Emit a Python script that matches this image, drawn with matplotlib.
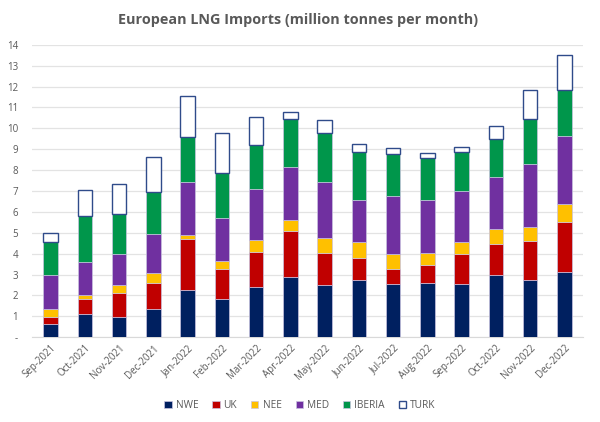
import matplotlib
matplotlib.use("Agg")
import matplotlib.pyplot as plt
import numpy as np

plt.rcParams["font.family"] = ["Open Sans", "DejaVu Sans"]

months = ["Sep-2021", "Oct-2021", "Nov-2021", "Dec-2021", "Jan-2022", "Feb-2022",
          "Mar-2022", "Apr-2022", "May-2022", "Jun-2022", "Jul-2022", "Aug-2022",
          "Sep-2022", "Oct-2022", "Nov-2022", "Dec-2022"]

# monthly volumes per region (million tonnes)
nwe = [0.64, 1.12, 0.96, 1.37, 2.28, 1.81, 2.40, 2.86, 2.51, 2.72, 2.56, 2.61, 2.54, 2.99, 2.75, 3.10]
uk = [0.32, 0.70, 1.15, 1.22, 2.40, 1.44, 1.68, 2.20, 1.51, 1.06, 0.69, 0.85, 1.44, 1.49, 1.86, 2.39]
nee = [0.37, 0.22, 0.41, 0.49, 0.22, 0.40, 0.56, 0.56, 0.72, 0.78, 0.72, 0.56, 0.58, 0.70, 0.65, 0.89]
med = [1.67, 1.55, 1.47, 1.84, 2.51, 2.06, 2.43, 2.51, 2.67, 2.00, 2.77, 2.56, 2.45, 2.47, 3.01, 3.27]
iberia = [1.54, 2.21, 1.92, 2.04, 2.17, 2.15, 2.15, 2.33, 2.38, 2.30, 2.03, 2.00, 1.85, 1.85, 2.16, 2.19]
turk = [0.46, 1.24, 1.42, 1.68, 1.97, 1.92, 1.32, 0.31, 0.61, 0.37, 0.30, 0.22, 0.23, 0.61, 1.39, 1.66]

series = [("NWE", nwe, "#002060"), ("UK", uk, "#C00000"), ("NEE", nee, "#FFC000"),
          ("MED", med, "#7030A0"), ("IBERIA", iberia, "#00964B")]

fig = plt.figure(figsize=(6, 4.22), dpi=100)
ax = fig.add_axes([0.053, 0.201, 0.919, 0.693])

x = np.arange(len(months))
w = 0.43
bottom = np.zeros(len(months))
for name, vals, col in series:
    ax.bar(x, vals, w, bottom=bottom, color=col, edgecolor="#C9C3E0", linewidth=0.5,
           label=name, zorder=3)
    bottom += np.array(vals)
ax.bar(x, turk, w, bottom=bottom, color="white", edgecolor="#2F4B8A", linewidth=1.0,
       label="TURK", zorder=3)

ax.set_ylim(0, 14)
ax.set_xlim(-0.55, len(months) - 0.45)
ax.set_yticks(range(0, 15))
ax.set_yticklabels(["-"] + [str(i) for i in range(1, 15)])
ax.grid(axis="y", color="#E3E3E3", linewidth=0.9, zorder=0)
for s in ["top", "right", "left"]:
    ax.spines[s].set_visible(False)
ax.spines["bottom"].set_color("#D9D9D9")
ax.tick_params(axis="both", length=0, labelsize=7, colors="#595959")
ax.tick_params(axis="y", pad=10)
ax.tick_params(axis="x", pad=4)
ax.set_xticks(x)
ax.set_xticklabels(months, rotation=45, ha="right", rotation_mode="anchor")

fig.text(0.497, 0.952, "European LNG Imports (million tonnes per month)", ha="center",
         va="center", fontsize=10.4, fontweight="bold", color="#595959")

fig.legend(loc="center", bbox_to_anchor=(0.5, 0.04), ncol=6, frameon=False,
           fontsize=7.3, handlelength=0.7, handleheight=0.7, columnspacing=1.4,
           handletextpad=0.4, labelcolor="#595959")

fig.savefig("out.png", dpi=100)
